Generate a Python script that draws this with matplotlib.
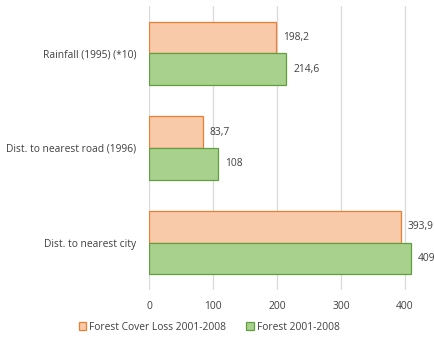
import numpy as np
import matplotlib.pyplot as plt

categories = ["Rainfall (1995) (*10)", "Dist. to nearest road (1996)", "Dist. to nearest city"]
loss = [198.2, 83.7, 393.9]
forest = [214.6, 108, 409]
series_names = ["Forest Cover Loss 2001-2008", "Forest 2001-2008"]

plt.rcParams['font.family'] = ['Open Sans', 'DejaVu Sans']
txt = '#404040'

fig = plt.figure(figsize=(4.35, 3.4), dpi=100)
ax = fig.add_axes([149 / 435, 1 - 290 / 340, 272 / 435, 284 / 340])

y = np.arange(len(categories))
h = 0.335
b1 = ax.barh(y - h / 2, loss, height=h, color='#F8CAA9', edgecolor='#ED7D31',
             linewidth=0.9, label=series_names[0], zorder=3)
b2 = ax.barh(y + h / 2, forest, height=h, color='#A9D18E', edgecolor='#609E3E',
             linewidth=0.9, label=series_names[1], zorder=3)

def fmt(v):
    # decimal comma for the value labels
    return f"{v:g}".replace('.', ',')

for bars, vals in ((b1, loss), (b2, forest)):
    ax.bar_label(bars, labels=[fmt(v) for v in vals], padding=5,
                 fontsize=7.4, color=txt)

ax.set_ylim(2.5, -0.5)
ax.set_xlim(0, 425)
ax.set_xticks([0, 100, 200, 300, 400])
ax.set_yticks(y)
ax.set_yticklabels(categories)
ax.tick_params(axis='both', length=0, labelsize=7.4, colors=txt)
ax.tick_params(axis='x', pad=8)
ax.tick_params(axis='y', pad=9)
ax.grid(axis='x', color='#D9D9D9', linewidth=0.9, zorder=0)
for sp in ax.spines.values():
    sp.set_visible(False)

fig.legend(handles=[b1, b2], loc='center', bbox_to_anchor=(209 / 435, 1 - 327 / 340),
           ncol=2, frameon=False, fontsize=7.4, handlelength=0.7, handleheight=0.7,
           handletextpad=0.3, columnspacing=2.0, labelcolor=txt)

fig.savefig('out.png', dpi=100)
